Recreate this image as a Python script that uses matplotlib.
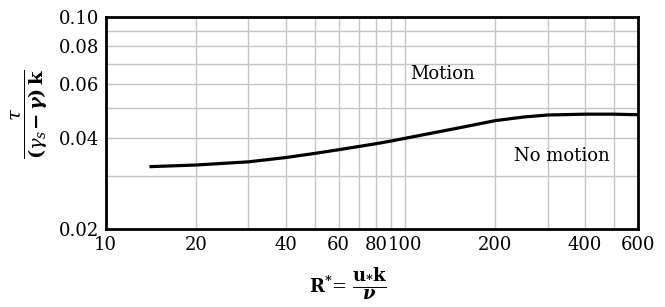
import numpy as np
import matplotlib
matplotlib.use('Agg')
import matplotlib.pyplot as plt
from matplotlib.ticker import FixedLocator, NullFormatter

# ----------
# Data (threshold-of-motion curve)
r_star = [14, 20, 30, 40, 50, 60, 70, 80, 90, 100, 150, 200, 250, 300,
          400, 500, 600]
tau_star = [0.0321, 0.0325, 0.0333, 0.0344, 0.0355, 0.0365, 0.0374, 0.0382,
            0.0390, 0.0398, 0.0430, 0.0455, 0.0468, 0.0475, 0.0478, 0.0478,
            0.0476]

x_ticks = [10, 20, 40, 60, 80, 100, 200, 400, 600]
x_grid = [20, 30, 40, 50, 60, 70, 80, 90, 100, 200, 300, 400, 500]
y_ticks = [0.02, 0.04, 0.06, 0.08, 0.10]
y_grid = [0.03, 0.04, 0.05, 0.06, 0.07, 0.08, 0.09]

# ----------
matplotlib.rc('font', family='DejaVu Serif', size=13)
matplotlib.rc('mathtext', fontset='dejavuserif')

fig = plt.figure(figsize=(6.65, 3.07), dpi=100, facecolor='white')
ax = fig.add_axes([0.159, 0.254, 0.800, 0.691])

ax.set_xscale('log')
ax.set_yscale('log')
ax.set_xlim(10, 600)
ax.set_ylim(0.02, 0.10)

# light grid
for g in x_grid:
    ax.axvline(g, color='#c4c4c4', lw=1, zorder=1)
for g in y_grid:
    ax.axhline(g, color='#c4c4c4', lw=1, zorder=1)

ax.plot(r_star, tau_star, color='black', lw=2.3, zorder=3,
        solid_capstyle='butt', solid_joinstyle='round')

ax.xaxis.set_major_locator(FixedLocator(x_ticks))
ax.xaxis.set_minor_locator(FixedLocator([]))
ax.set_xticklabels([str(t) for t in x_ticks])
ax.yaxis.set_major_locator(FixedLocator(y_ticks))
ax.yaxis.set_minor_locator(FixedLocator([]))
ax.yaxis.set_minor_formatter(NullFormatter())
ax.set_yticklabels(['%.2f' % t for t in y_ticks])
ax.tick_params(length=0, pad=5, labelsize=13)

for s in ax.spines.values():
    s.set_linewidth(2)
    s.set_zorder(4)

ax.text(104, 0.0649, 'Motion', fontsize=13, va='center', ha='left')
ax.text(232, 0.0348, 'No motion', fontsize=13, va='center', ha='left')

fig.text(0.523, 0.075, r'$\mathbf{R^{*}}$= $\dfrac{\mathbf{u_{*}k}}{\boldsymbol{\nu}}$',
         ha='center', va='center', fontsize=13)
fig.text(0.045, 0.63,
         r'$\dfrac{\tau}{\boldsymbol{(\gamma_s\!-\gamma)}\,\mathbf{k}}$',
         ha='center', va='center', rotation=90, fontsize=14)

fig.savefig('out.png', dpi=100, facecolor='white')
